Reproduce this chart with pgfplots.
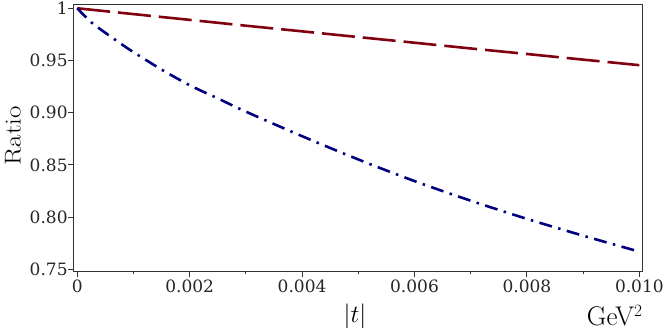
\documentclass[border=0pt]{standalone}
\usepackage{fontspec}
\usepackage{pgfplots}
\pgfplotsset{compat=1.18}
\newfontfamily\dejaserif{DejaVu Serif}
\definecolor{ratiored}{RGB}{128,0,16}
\definecolor{rationavy}{RGB}{0,0,128}

\begin{document}
\begin{tikzpicture}
\path[use as bounding box] (0,0) rectangle (664pt,332pt);
\begin{axis}[
    at={(73.3pt,60.3pt)}, anchor=south west,
    scale only axis,
    width=569.4pt, height=267.4pt,
    xmin=-0.00007, xmax=0.01006,
    ymin=0.7477, ymax=1.0038,
    axis line style={black!80, line width=1.1pt},
    tick style={black!80, line width=1.1pt},
    tick align=outside,
    xtick pos=bottom, ytick pos=left,
    major tick length=5pt, minor tick length=2.5pt,
    xtick={0,0.002,0.004,0.006,0.008,0.010},
    xticklabels={0,0.002,0.004,0.006,0.008,0.010},
    scaled x ticks=false,
    minor x tick num=1,
    ytick={0.75,0.80,0.85,0.90,0.95,1},
    yticklabels={0.75,0.80,0.85,0.90,0.95,1},
    /pgf/number format/assume math mode=true,
    tick label style={font=\dejaserif\fontsize{17}{17}\selectfont, text=black!85},
    yticklabel style={inner xsep=0.5pt},
]
% ratio curves
\addplot[ratiored, line width=2.6pt, dash pattern=on 33pt off 8pt] coordinates {
 (0,1) (0.001,0.9944) (0.002,0.9889) (0.003,0.9833) (0.004,0.9779)
 (0.005,0.9724) (0.006,0.9670) (0.007,0.9615) (0.008,0.9562)
 (0.009,0.9508) (0.010,0.9455)};
\addplot[rationavy, line width=2.6pt, smooth, dash pattern=on 13pt off 6.5pt on 2.5pt off 6.5pt] coordinates {
 (0,1) (0.00025,0.9865) (0.0005,0.9765) (0.00075,0.9670) (0.001,0.9580)
 (0.0015,0.9413) (0.002,0.9263) (0.0025,0.9137) (0.003,0.9010)
 (0.004,0.8775) (0.005,0.8552) (0.006,0.8345) (0.007,0.8157)
 (0.008,0.7983) (0.009,0.7822) (0.010,0.7669)};
\end{axis}
% axis titles
\node[rotate=90, font=\fontsize{27}{27}\selectfont] at (13pt,196pt) {\scalebox{1}[0.85]{Ratio}};
\node[font=\fontsize{27}{27}\selectfont] at (355pt,16pt) {$|t|$};
\node[anchor=base east, inner sep=0pt, font=\fontsize{27}{27}\selectfont] at (642.7pt,6pt) {GeV$^2$};
\end{tikzpicture}
\end{document}
